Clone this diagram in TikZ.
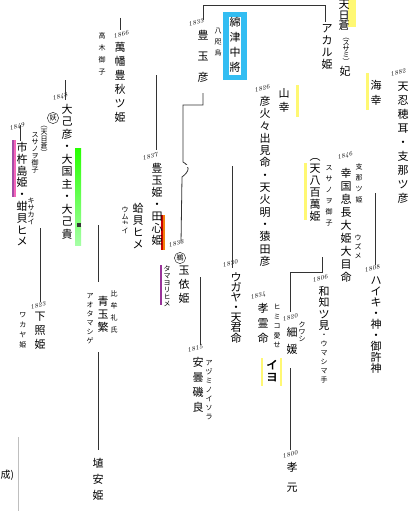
\documentclass[tikz,border=0pt]{standalone}
\usepackage{fontspec}
\newfontfamily\cjk{Noto Sans CJK JP}
\newfontfamily\cjkb[FakeBold=3]{Noto Sans CJK JP}
\usetikzlibrary{positioning}

% vertical text: one glyph per line
\def\vtend{}
\def\vt#1{\vtfirst#1\vtend}
\def\vtfirst#1{#1\vtrest}
\def\vtrest#1{\ifx#1\vtend\else\\#1\expandafter\vtrest\fi}

\begin{document}
\begin{tikzpicture}[x=1pt,y=-1pt,
  nm/.style={font=\cjk\fontsize{11}{#1}\selectfont, inner sep=0pt, align=center, anchor=north},
  nm/.default=13,
  sm/.style={font=\cjk\fontsize{7}{#1}\selectfont, inner sep=0pt, align=center, anchor=north},
  sm/.default=9,
  yr/.style={font=\fontsize{6.5}{7}\selectfont\itshape, inner sep=0pt, rotate=15},
  circ/.style={circle, draw=black!80, line width=0.5pt, inner sep=0.6pt, font=\cjk\fontsize{7}{7}\selectfont},
  ln/.style={line width=0.8pt, draw=black!80},
  wed/.style={draw=black!80, double, double distance=1.3pt, line width=0.6pt},
  yel/.style={fill=yellow!55, draw=none}
]
\useasboundingbox (0,0) rectangle (416,511);
\fill[white] (0,0) rectangle (416,511);

% highlights
\fill[yel] (348,0) rectangle (356,27);
\fill[yel] (366,73) rectangle (369,110);
\fill[yel] (296,85) rectangle (299,117);
\fill[yel] (304,163) rectangle (307,220);
\fill[yel] (261,358) rectangle (263,386);
\fill[yel] (280,358) rectangle (282,386);
\fill[cyan!80] (223,12) rectangle (247,80);
\fill[white] (229,17) rectangle (241,75);
\shade[top color=green!80!lime, bottom color=green!35] (75,148) rectangle (81,245);
\fill[red!80!black] (161,215) rectangle (163,250);
\fill[orange!80!brown] (163,215) rectangle (165,250);
\fill[violet!80] (160,265) rectangle (162,305);
\fill[violet!70] (12,140) rectangle (14,197);
\fill[magenta!60] (14,140) rectangle (16,197);

% right side
\node[yr] (y1882) at (398,72) {1882};
\node[nm=14] (osihomi) at (403,82) {\vt{天忍穂耳・支那ツ彦}};
\node[nm=15] (umi) at (376,80) {\vt{海幸}};
\node[nm=10.5] (hiboko) at (344,0) {\vt{天日蒼}};
\node[sm=6] (hibokoK) at (346,38) {\vt{︵スサミ︶}};
\node[nm=11] (hibokoH) at (345,66) {妃};
\node[nm=12] (akaru) at (327,24) {\vt{アカル姫}};
\node[nm=15] (wata) at (235,17) {\vt{綿津中將}};
\node[sm=11] (yata) at (218,28) {\vt{八咫烏}};
\node[yr] (y1833a) at (196,22) {1833};
\node[nm=21] (tyhiko) at (203,30) {\vt{豊玉彦}};

% upper left
\node[yr] (y1866) at (121,34) {1866};
\node[nm=14] (yorozu) at (120,42) {\vt{萬幡豊秋ツ姫}};
\node[sm=12] (takagi) at (102,32) {\vt{高木御子}};

% middle
\node[yr] (y1837) at (150,156) {1837};
\node[nm=12] (tyhime) at (157,163) {\vt{豊玉姫・田心姫}};
\node[yr] (y1833b) at (176,243) {1833};
\node[circ] (u) at (180,258) {鵜};
\node[nm=14] (tyori) at (184,266) {\vt{玉依姫}};
\node[sm=7] (tyoriK) at (167,266) {\vt{タマヨリヒメ}};
\node[yr] (y1830) at (230,263) {1830};
\node[nm=10] (ugaya) at (236,272) {\vt{ウガヤ・天君命}};
\node[yr] (y1815) at (195,348) {1815};
\node[nm=15] (isora) at (198,357) {\vt{安曇磯良}};
\node[sm=9] (isoraK) at (209,360) {\vt{アヅミノイソラ}};

\node[yr] (y1826) at (262,88) {1826};
\node[nm=12.3] (hohode) at (265,96) {\vt{彦火々出見命・天火明・猿田彦}};
\node[nm=14] (yama) at (284,88) {\vt{山幸}};
\node[nm=12] (ame8) at (315,158) {\vt{︵天八百萬姫}};
\node[sm=11] (ame8K) at (329,165) {\vt{スサノヲ御子}};
\node[yr] (y1846) at (345,156) {1846};
\node[nm=13] (okinaga) at (346,168) {\vt{幸国息長大姫大目命}};
\node[sm=11] (sina) at (359,163) {\vt{支那ツ姫}};
\node[sm=9] (uzume) at (358,235) {\vt{ウズメ}};
\node[yr] (y1808) at (372,268) {1808};
\node[nm=11] (haiki) at (376,277) {\vt{ハイキ・神・御許神}};
\node[yr] (y1806) at (320,278) {1806};
\node[nm=11.5] (wachi) at (324,286) {\vt{和知ツ見}};
\node[sm=9, below=3pt of wachi] (umashi) {\vt{・ウマシマ手}};
\node[yr] (y1834) at (258,296) {1834};
\node[nm=15] (korei) at (263,303) {\vt{孝霊命}};
\node[sm=9.5] (himiko) at (277,304) {\vt{ヒミコ愛せ}};
\node[nm=12, font=\cjkb\fontsize{11}{12}\selectfont] (iyo) at (272,360) {\vt{イヨ}};
\node[yr] (y1820) at (290,317) {1820};
\node[nm=17] (kuwashi) at (292,327) {\vt{細媛}};
\node[sm=7] (kuwashiK) at (302,322) {\vt{クワシ}};
\node[yr] (y1800) at (290,454) {1800};
\node[nm=20] (kogen) at (292,462) {\vt{孝元}};
\node[nm=16] (hani) at (98,458) {\vt{埴安姫}};

% left side
\node[yr] (y1848) at (60,97) {1848};
\node[nm=12.5] (onamuchi) at (67,104) {\vt{大己彦・大国主・大己貴}};
\node[circ] (ky) at (53,118) {妖};
\node[yr] (y1849) at (17,127) {1849};
\node[nm=11.8] (ichiki) at (22,142) {\vt{市杵島姫・蚶貝ヒメ}};
\node[sm=7] (kisa) at (31,198) {\vt{キサカイ}};
\node[sm=7] (ichikiA) at (44,126) {\vt{︵天日蒼︶}};
\node[sm=7] (ichikiB) at (35,132) {\vt{スサノヲ御子}};
\node[nm=12] (umuka) at (138,203) {\vt{蛤貝ヒメ}};
\node[sm=7] (umukaK) at (125,207) {\vt{ウムカイ}};
\node[yr] (y1823) at (38,305) {1823};
\node[nm=14] (shitateru) at (40,312) {\vt{下照姫}};
\node[sm=10] (waka) at (23,312) {\vt{ワカヤ姫}};
\node[nm=13] (aotama) at (103,296) {\vt{青玉繁}};
\node[sm=12] (himure) at (114,290) {\vt{比牟礼氏}};
\node[sm=9] (aotamaK) at (90,293) {\vt{アオタマシゲ}};
\node[font=\cjk\fontsize{10}{10}\selectfont, anchor=west, inner sep=0pt] (kakko) at (0.5,475) {成)};

% junction points
\coordinate (hikoT) at (203,20);
\coordinate (akaruT) at (325,22);
\coordinate (hikoB) at (203,93);
\coordinate (yoriT) at (181,243);
\coordinate (yoroW) at (128,75);
\coordinate (yoroE) at (195,75);
\coordinate (yoroC) at (156,75);
\coordinate (tyhimeT) at (156,150);
\coordinate (toyoW) at (160,166);
\coordinate (toyoE) at (257,166);
\coordinate (toyoC) at (232,166);
\coordinate (ugayaT) at (232,268);
\coordinate (yoriW) at (190,277);
\coordinate (yoriE) at (228,277);
\coordinate (yoriC) at (200,277);
\coordinate (isoraT) at (200,345);
\coordinate (hoW) at (276,257);
\coordinate (hoE) at (337,257);
\coordinate (hoC) at (322,257);
\coordinate (kuwaT) at (290,312);
\coordinate (kuwaB) at (290,368);
\coordinate (kogenT) at (290,450);
\coordinate (osiW) at (363,193);
\coordinate (osiE) at (390,193);
\coordinate (osiC) at (375,193);
\coordinate (haikiT) at (375,265);
\coordinate (oLW) at (28,228);
\coordinate (oLE) at (60,228);
\coordinate (oLC) at (40,228);
\coordinate (shitaT) at (40,302);
\coordinate (oRW) at (77,225);
\coordinate (oRE) at (132,225);
\coordinate (oRC) at (98,225);
\coordinate (aoT) at (98,282);
\coordinate (aoB) at (98,352);
\coordinate (haniT) at (98,450);
\coordinate (kW) at (110,469);
\coordinate (kE) at (280,469);

% stubs from unshown parents
\draw[ln] (120,18) -- (120,30);
\draw[ln] (65,80) -- (65,100);
\draw[ln] (20,125) -- (20,141);

% connectors
\draw[ln] (hikoT) -- ++(0,-15) -| (akaruT);
\draw[ln] (hikoB) -- ++(0,12) -| (183,162) .. controls (190,166) and (190,171) .. (182,177) -- (yoriT);
\draw[wed] (yoroW) -- (yoroE);
\draw[ln] (yoroC) -- (tyhimeT);
\draw[wed] (toyoW) -- (toyoE);
\draw[ln] (toyoC) -- (ugayaT);
\draw[wed] (yoriW) -- (yoriE);
\draw[ln] (yoriC) -- (isoraT);
\draw[wed] (hoW) -- (hoE);
\draw[ln] (hoC) -- ++(0,15) -| (kuwaT);
\draw[ln] (kuwaB) -- (kogenT);
\draw[wed] (osiW) -- (osiE);
\draw[ln] (osiC) -- (haikiT);
\draw[wed] (oLW) -- (oLE);
\draw[ln] (oLC) -- (shitaT);
\draw[wed] (oRW) -- (oRE);
\fill[black!80] (77,223) rectangle (81,227);
\draw[ln] (oRC) -- (aoT);
\draw[ln] (aoB) -- (haniT);
\draw[wed] (kW) -- (kE);
\draw[black!25, line width=0.5pt] (18,437) -- (18,511);
\end{tikzpicture}
\end{document}
